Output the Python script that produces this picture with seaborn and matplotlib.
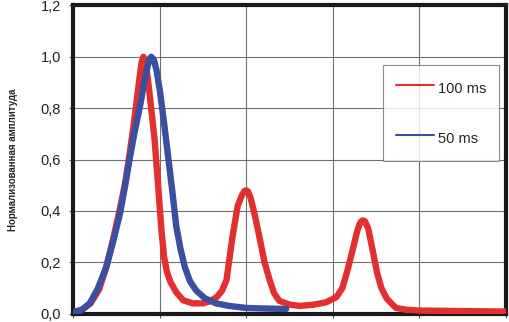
import numpy as np
import pandas as pd
import matplotlib
matplotlib.use("Agg")
import matplotlib.pyplot as plt
from matplotlib.lines import Line2D
from matplotlib.ticker import FuncFormatter
import seaborn as sns

# ── Data ─────────────────────────────────────────────────────────────────────
x_100 = [0.00, 0.10, 0.20, 0.30, 0.38, 0.46, 0.54, 0.60, 0.65, 0.70, 0.74, 0.77, 0.79, 0.81,
         0.83, 0.86, 0.90, 0.94, 0.98, 1.02, 1.05, 1.08, 1.12, 1.19, 1.27, 1.38, 1.50, 1.58,
         1.66, 1.72, 1.77, 1.84, 1.90, 1.95, 1.98, 2.00, 2.02, 2.05, 2.10, 2.15, 2.21, 2.27,
         2.32, 2.38, 2.50, 2.62, 2.78, 2.92, 3.04, 3.11, 3.17, 3.23, 3.28, 3.31, 3.33, 3.35,
         3.37, 3.41, 3.46, 3.51, 3.56, 3.62, 3.69, 3.73, 3.85, 4.00, 4.25, 4.50, 4.75, 5.00]
y_100 = [0.005, 0.015, 0.040, 0.095, 0.180, 0.290, 0.410, 0.510, 0.620, 0.740, 0.850, 0.930, 0.980, 1.000,
         0.985, 0.920, 0.800, 0.676, 0.500, 0.320, 0.220, 0.165, 0.125, 0.083, 0.052, 0.040, 0.040, 0.048,
         0.065, 0.090, 0.130, 0.300, 0.420, 0.462, 0.478, 0.480, 0.475, 0.450, 0.380, 0.300, 0.200, 0.130,
         0.080, 0.050, 0.035, 0.030, 0.035, 0.044, 0.064, 0.100, 0.170, 0.250, 0.320, 0.350, 0.360, 0.363,
         0.360, 0.330, 0.246, 0.160, 0.100, 0.060, 0.035, 0.022, 0.015, 0.012, 0.011, 0.010, 0.009, 0.008]

x_50 = [0.00, 0.10, 0.19, 0.28, 0.38, 0.46, 0.54, 0.60, 0.65, 0.71, 0.77, 0.82, 0.86, 0.88, 0.90,
        0.93, 0.96, 1.00, 1.05, 1.10, 1.15, 1.19, 1.24, 1.29, 1.35, 1.42, 1.52, 1.65, 1.80, 2.00,
        2.20, 2.46]
y_50 = [0.005, 0.015, 0.040, 0.095, 0.180, 0.280, 0.390, 0.500, 0.600, 0.710, 0.806, 0.900, 0.965, 0.990, 1.000,
        0.990, 0.950, 0.870, 0.740, 0.600, 0.460, 0.340, 0.250, 0.180, 0.125, 0.090, 0.060, 0.040, 0.030, 0.022,
        0.020, 0.018]

labels = ["100 ms", "50 ms"]
colors = ["#e2302f", "#3a4f9f"]
y_ticks = [0.0, 0.2, 0.4, 0.6, 0.8, 1.0, 1.2]
x_ticks = [0, 1, 2, 3, 4, 5]

df_100 = pd.DataFrame({"x": x_100, "y": y_100})
df_50 = pd.DataFrame({"x": x_50, "y": y_50})

# ── Plot ─────────────────────────────────────────────────────────────────────
sns.set_style("white")
plt.rcParams["font.family"] = ["Liberation Sans", "DejaVu Sans"]

fig = plt.figure(figsize=(5.09, 3.22), dpi=100)
ax = fig.add_axes([0.144, 0.026, 0.85, 0.957])

sns.lineplot(data=df_100, x="x", y="y", sort=False, color=colors[0], linewidth=4.6,
             solid_capstyle="round", solid_joinstyle="round", ax=ax, zorder=3)
sns.lineplot(data=df_50, x="x", y="y", sort=False, color=colors[1], linewidth=4.6,
             solid_capstyle="round", solid_joinstyle="round", ax=ax, zorder=4)

ax.set_xlim(0, 5)
ax.set_ylim(0, 1.2)
ax.set_xticks(x_ticks)
ax.set_yticks(y_ticks)
ax.set_xticklabels([])
ax.yaxis.set_major_formatter(FuncFormatter(lambda v, p: f"{v:.1f}".replace(".", ",")))
ax.grid(True, color="#707070", linewidth=0.8)
ax.set_axisbelow(True)
ax.set_xlabel("")
ax.set_ylabel("Нормализованная амплитуда", fontsize=7, fontweight="bold", labelpad=16)
ax.tick_params(axis="both", direction="out", length=3, width=0.8, color="#555555",
               labelsize=10.5, labelcolor="#222222", bottom=True, left=True, pad=6)
for s in ax.spines.values():
    s.set_visible(True)
    s.set_color("#1a1a1a")
    s.set_linewidth(3)

handles = [Line2D([0], [0], color=c, linewidth=1.5) for c in colors]
leg = ax.legend(handles, labels, loc="upper left", bbox_to_anchor=(0.716, 0.808),
                frameon=True, fancybox=False, fontsize=10.5, handlelength=2.6,
                handleheight=1.8, handletextpad=0.25, labelspacing=2.0, borderpad=0.9,
                borderaxespad=0)
leg.get_frame().set_edgecolor("#707070")
leg.get_frame().set_linewidth(0.8)

fig.savefig("out.png", dpi=100)
